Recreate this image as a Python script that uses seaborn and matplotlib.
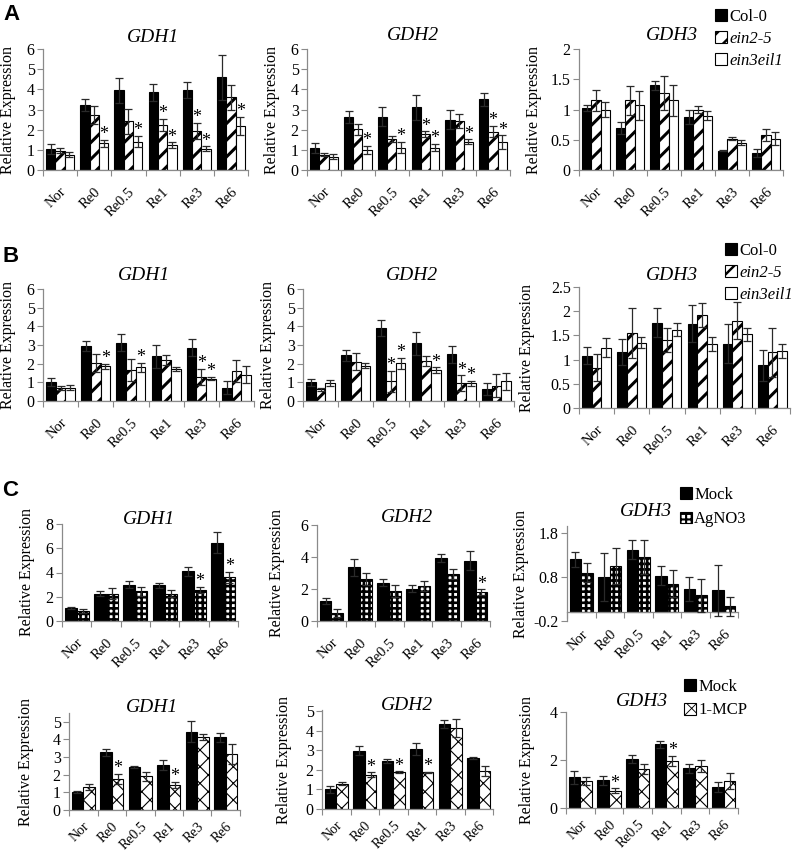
import numpy as np
import pandas as pd
import matplotlib
matplotlib.use("Agg")
import matplotlib.pyplot as plt
import seaborn as sns
from matplotlib.patches import Patch
from matplotlib.ticker import FixedLocator, FormatStrFormatter

plt.rcParams["font.family"] = ["Liberation Serif", "DejaVu Serif"]

TIMES = ["Nor", "Re0", "Re0.5", "Re1", "Re3", "Re6"]
GENOTYPES = ["Col-0", "ein2-5", "ein3eil1"]
AG_GROUPS = ["Mock", "AgNO3"]
MCP_GROUPS = ["Mock", "1-MCP"]

# ---------------- Panel A ----------------
A_GDH1_MEAN = [[1.05, 3.22, 3.95, 3.85, 3.95, 4.60],
               [0.95, 2.72, 2.42, 2.25, 1.95, 3.60],
               [0.75, 1.32, 1.40, 1.22, 1.05, 2.20]]
A_GDH1_ERR = [[0.25, 0.28, 0.62, 0.42, 0.40, 1.12],
              [0.12, 0.45, 0.62, 0.30, 0.40, 0.62],
              [0.13, 0.17, 0.28, 0.15, 0.12, 0.45]]
A_GDH1_SIG = [[0, 0, 0, 0, 0, 0],
              [0, 0, 0, 1, 1, 0],
              [0, 1, 1, 1, 1, 1]]

A_GDH2_MEAN = [[1.08, 2.62, 2.65, 3.10, 2.49, 3.50],
               [0.75, 2.02, 1.53, 1.79, 2.45, 1.90],
               [0.65, 1.00, 1.11, 1.11, 1.41, 1.38]]
A_GDH2_ERR = [[0.25, 0.30, 0.47, 0.60, 0.47, 0.31],
              [0.08, 0.27, 0.16, 0.13, 0.35, 0.28],
              [0.12, 0.20, 0.29, 0.19, 0.11, 0.34]]
A_GDH2_SIG = [[0, 0, 0, 0, 0, 0],
              [0, 0, 0, 1, 0, 1],
              [0, 1, 1, 1, 1, 1]]

A_GDH3_MEAN = [[1.03, 0.70, 1.40, 0.88, 0.32, 0.28],
               [1.15, 1.15, 1.27, 1.00, 0.52, 0.58],
               [1.00, 1.07, 1.15, 0.90, 0.45, 0.52]]
A_GDH3_ERR = [[0.05, 0.10, 0.07, 0.12, 0.01, 0.06],
              [0.17, 0.24, 0.28, 0.06, 0.03, 0.10],
              [0.12, 0.24, 0.25, 0.08, 0.04, 0.10]]
A_GDH3_SIG = [[0] * 6, [0] * 6, [0] * 6]

# ---------------- Panel B ----------------
B_GDH1_MEAN = [[1.00, 2.95, 3.12, 2.40, 2.85, 0.72],
               [0.70, 2.05, 1.65, 2.20, 1.30, 1.62],
               [0.72, 1.85, 1.80, 1.72, 1.20, 1.40]]
B_GDH1_ERR = [[0.22, 0.28, 0.45, 0.62, 0.45, 0.33],
              [0.12, 0.48, 0.60, 0.28, 0.42, 0.60],
              [0.15, 0.15, 0.25, 0.12, 0.10, 0.45]]
B_GDH1_SIG = [[0, 0, 0, 0, 0, 0],
              [0, 0, 0, 0, 1, 0],
              [0, 1, 1, 0, 1, 0]]

B_GDH2_MEAN = [[1.00, 2.45, 3.92, 3.10, 2.50, 0.65],
               [0.62, 2.10, 1.05, 2.15, 0.95, 0.82],
               [0.95, 1.90, 2.02, 1.65, 0.95, 1.05]]
B_GDH2_ERR = [[0.20, 0.30, 0.42, 0.62, 0.45, 0.32],
              [0.10, 0.45, 0.58, 0.28, 0.42, 0.60],
              [0.15, 0.15, 0.28, 0.15, 0.12, 0.45]]
B_GDH2_SIG = [[0, 0, 0, 0, 0, 0],
              [0, 0, 1, 0, 1, 0],
              [0, 0, 1, 1, 1, 0]]

B_GDH3_MEAN = [[1.08, 1.15, 1.76, 1.74, 1.33, 0.88],
               [0.83, 1.55, 1.40, 1.92, 1.80, 1.15],
               [1.25, 1.35, 1.62, 1.32, 1.52, 1.18]]
B_GDH3_ERR = [[0.18, 0.27, 0.30, 0.38, 0.40, 0.32],
              [0.28, 0.52, 0.25, 0.24, 0.38, 0.50],
              [0.20, 0.12, 0.14, 0.15, 0.13, 0.15]]
B_GDH3_SIG = [[0] * 6, [0] * 6, [0] * 6]

# ---------------- Panel C (AgNO3) ----------------
C_GDH1_MEAN = [[1.05, 2.25, 3.00, 2.95, 4.10, 6.45],
               [0.82, 2.25, 2.45, 2.25, 2.55, 3.60]]
C_GDH1_ERR = [[0.08, 0.22, 0.30, 0.22, 0.35, 0.85],
              [0.15, 0.45, 0.35, 0.30, 0.25, 0.45]]
C_GDH1_SIG = [[0, 0, 0, 0, 0, 0],
              [0, 0, 0, 0, 1, 1]]

C_GDH2_MEAN = [[1.25, 3.35, 2.38, 2.02, 3.95, 3.78],
               [0.50, 2.65, 1.85, 2.20, 2.95, 1.80]]
C_GDH2_ERR = [[0.18, 0.55, 0.22, 0.20, 0.25, 0.58],
              [0.22, 0.38, 0.38, 0.32, 0.32, 0.18]]
C_GDH2_SIG = [[0, 0, 0, 0, 0, 0],
              [0, 0, 0, 0, 0, 1]]

C_GDH3_MEAN = [[1.20, 0.80, 1.42, 0.83, 0.53, 0.50],
               [0.90, 1.05, 1.26, 0.65, 0.38, 0.13]]
C_GDH3_ERR = [[0.17, 0.55, 0.22, 0.22, 0.27, 0.58],
              [0.22, 0.40, 0.38, 0.30, 0.37, 0.22]]
C_GDH3_SIG = [[0] * 6, [0] * 6]

# ---------------- Panel C (1-MCP) ----------------
D_GDH1_MEAN = [[1.00, 3.27, 2.45, 2.55, 4.45, 4.12],
               [1.30, 1.75, 1.90, 1.42, 4.15, 3.17]]
D_GDH1_ERR = [[0.05, 0.20, 0.05, 0.30, 0.60, 0.25],
              [0.15, 0.30, 0.25, 0.18, 0.18, 0.58]]
D_GDH1_SIG = [[0, 0, 0, 0, 0, 0],
              [0, 1, 0, 1, 0, 0]]

D_GDH2_MEAN = [[1.00, 2.98, 2.45, 3.07, 4.33, 2.60],
               [1.30, 1.75, 1.87, 1.87, 4.12, 1.93]]
D_GDH2_ERR = [[0.18, 0.22, 0.08, 0.30, 0.20, 0.07],
              [0.06, 0.12, 0.05, 0.03, 0.45, 0.25]]
D_GDH2_SIG = [[0, 0, 0, 0, 0, 0],
              [0, 1, 1, 1, 0, 0]]

D_GDH3_MEAN = [[1.28, 1.15, 2.05, 2.65, 1.65, 0.88],
               [1.13, 0.72, 1.62, 1.95, 1.75, 1.12]]
D_GDH3_ERR = [[0.28, 0.18, 0.17, 0.13, 0.18, 0.20],
              [0.17, 0.10, 0.20, 0.22, 0.27, 0.32]]
D_GDH3_SIG = [[0, 0, 0, 0, 0, 0],
              [0, 1, 0, 1, 0, 0]]

# ---------------- drawing ----------------
W, H = 797, 857
fig = plt.figure(figsize=(W / 100, H / 100), dpi=100)

GRAY = "#8a8a8a"
HATCH_GENO = [None, "//", None]
HATCH_AG = [None, "+++"]
HATCH_MCP = [None, "xx"]
HLW_GENO = [1.0, 2.2, 1.0]
HLW_AG = [1.0, 1.9]
HLW_MCP = [1.0, 0.8]
FACE = {"Col-0": "black", "ein2-5": "white", "ein3eil1": "white",
        "Mock": "black", "AgNO3": "white", "1-MCP": "white"}


def set_hlw(p, lw):
    if hasattr(p, "set_hatch_linewidth"):
        p.set_hatch_linewidth(lw)


def panel(box, means, errs, sigs, groups, hatches, hlws, title, title_xy,
          ylim, yticks, ylabel_right, fmt="%g", zero_spine=False,
          xpad=11, xsize=10.5):
    l, r, t, b = box
    ax = fig.add_axes([l / W, 1 - b / H, (r - l) / W, (b - t) / H])
    if zero_spine:
        ax.spines["bottom"].set_position(("data", 0))
    rows = []
    for gi, g in enumerate(groups):
        for ti, tm in enumerate(TIMES):
            rows.append({"time": tm, "group": g, "value": means[gi][ti]})
    df = pd.DataFrame(rows)
    sns.barplot(data=df, x="time", y="value", hue="group", order=TIMES,
                hue_order=groups, palette={g: FACE[g] for g in groups},
                edgecolor="black", linewidth=0.8, width=0.82,
                errorbar=None, legend=False, ax=ax, saturation=1)
    bar_conts = list(ax.containers)[:len(groups)]
    for gi, cont in enumerate(bar_conts):
        xs, hs = [], []
        for ti, bar in enumerate(cont):
            if hatches[gi]:
                bar.set_hatch(hatches[gi])
                set_hlw(bar, hlws[gi])
            xs.append(bar.get_x() + bar.get_width() / 2)
            hs.append(bar.get_height())
        ax.errorbar(xs, hs, yerr=errs[gi], fmt="none", ecolor="#2a2a2a",
                    elinewidth=0.9, capsize=2.6, capthick=0.9, zorder=3)
        for ti in range(len(xs)):
            if sigs[gi][ti]:
                ax.annotate("*", (xs[ti], hs[ti] + errs[gi][ti]),
                            xytext=(0, 0.5), textcoords="offset points",
                            ha="center", va="baseline", fontsize=13,
                            zorder=4)
    ax.set_xlim(-0.5, 5.5)
    ax.set_ylim(*ylim)
    ax.yaxis.set_major_locator(FixedLocator(yticks))
    ax.yaxis.set_major_formatter(FormatStrFormatter(fmt))
    ax.set_xticks(range(6))
    ax.set_xticklabels(TIMES, rotation=45, ha="right",
                       rotation_mode="anchor", fontsize=xsize)
    ax.xaxis.set_minor_locator(FixedLocator(np.arange(-0.5, 6, 1.0)))
    ax.tick_params(axis="x", which="major", length=0, pad=xpad)
    ax.tick_params(axis="x", which="minor", length=4, color=GRAY,
                   direction="out", width=0.8)
    ax.tick_params(axis="y", length=4, color=GRAY, width=0.8,
                   labelsize=11.5, pad=2)
    for s in ["top", "right"]:
        ax.spines[s].set_visible(False)
    for s in ["left", "bottom"]:
        ax.spines[s].set_color(GRAY)
        ax.spines[s].set_linewidth(0.9)
    ax.set_xlabel("")
    ax.set_ylabel("Relative Expression", fontsize=11.5)
    ax.yaxis.set_label_coords((ylabel_right - l) / (r - l), 0.5)
    tx, ty = title_xy
    fig.text(tx / W, 1 - ty / H, title, fontsize=14, style="italic",
             ha="center", va="center")
    return ax


def legend(ax, groups, hatches, hlws, xy, italic, spacing=0.35):
    handles = []
    for g, h, lw in zip(groups, hatches, hlws):
        p = Patch(facecolor=FACE[g], edgecolor="black", hatch=h,
                  linewidth=0.8)
        handles.append(p)
    x, y = xy
    leg = ax.legend(handles, groups, loc="upper left",
                    bbox_to_anchor=(x / W, 1 - y / H),
                    bbox_transform=fig.transFigure, frameon=False,
                    fontsize=12, handlelength=0.7, handleheight=0.7,
                    handletextpad=0.15, labelspacing=spacing,
                    borderpad=0, borderaxespad=0)
    for p, lw in zip(leg.get_patches(), hlws):
        set_hlw(p, lw * 0.8)
    for txt, it in zip(leg.get_texts(), italic):
        if it:
            txt.set_style("italic")


# Row A
panel((43, 248, 49, 170), A_GDH1_MEAN, A_GDH1_ERR, A_GDH1_SIG, GENOTYPES,
      HATCH_GENO, HLW_GENO, "GDH1", (153, 37), (0, 6), range(0, 7), 16)
panel((307, 510, 49, 170), A_GDH2_MEAN, A_GDH2_ERR, A_GDH2_SIG, GENOTYPES,
      HATCH_GENO, HLW_GENO, "GDH2", (413, 35), (0, 6), range(0, 7), 280)
axA3 = panel((579, 783, 49, 170), A_GDH3_MEAN, A_GDH3_ERR, A_GDH3_SIG,
             GENOTYPES, HATCH_GENO, HLW_GENO, "GDH3", (672, 35), (0, 2),
             [0, 0.5, 1, 1.5, 2], 542)
legend(axA3, GENOTYPES, HATCH_GENO, HLW_GENO, (715, 9), [0, 1, 1])

# Row B
panel((43, 254, 289, 401), B_GDH1_MEAN, B_GDH1_ERR, B_GDH1_SIG, GENOTYPES,
      HATCH_GENO, HLW_GENO, "GDH1", (144, 276), (0, 6), range(0, 7), 16)
panel((303, 514, 289, 401), B_GDH2_MEAN, B_GDH2_ERR, B_GDH2_SIG, GENOTYPES,
      HATCH_GENO, HLW_GENO, "GDH2", (412, 275), (0, 6), range(0, 7), 276)
axB3 = panel((579, 790, 287, 408), B_GDH3_MEAN, B_GDH3_ERR, B_GDH3_SIG,
             GENOTYPES, HATCH_GENO, HLW_GENO, "GDH3", (672, 275), (0, 2.5),
             [0, 0.5, 1, 1.5, 2, 2.5], 535)
legend(axB3, GENOTYPES, HATCH_GENO, HLW_GENO, (725, 243), [0, 1, 1])

# Row C (AgNO3)
panel((62, 238, 524, 621), C_GDH1_MEAN, C_GDH1_ERR, C_GDH1_SIG, AG_GROUPS,
      HATCH_AG, HLW_AG, "GDH1", (149, 520), (0, 8), [0, 2, 4, 6, 8], 35)
panel((317, 490, 525, 621), C_GDH2_MEAN, C_GDH2_ERR, C_GDH2_SIG, AG_GROUPS,
      HATCH_AG, HLW_AG, "GDH2", (407, 518), (0, 6), [0, 2, 4, 6], 285)
axC3 = panel((567, 738, 526, 621), C_GDH3_MEAN, C_GDH3_ERR, C_GDH3_SIG,
             AG_GROUPS, HATCH_AG, HLW_AG, "GDH3", (646, 512), (-0.2, 1.96),
             [-0.2, 0.8, 1.8], 529, zero_spine=True)
legend(axC3, AG_GROUPS, HATCH_AG, HLW_AG, (680, 487), [0, 0], 0.5)

# Row C (1-MCP)
panel((69, 240, 713, 810), D_GDH1_MEAN, D_GDH1_ERR, D_GDH1_SIG, MCP_GROUPS,
      HATCH_MCP, HLW_MCP, "GDH1", (152, 707), (0, 5.5), range(0, 6), 34,
      xpad=7, xsize=10)
panel((322, 493, 710, 809), D_GDH2_MEAN, D_GDH2_ERR, D_GDH2_SIG, MCP_GROUPS,
      HATCH_MCP, HLW_MCP, "GDH2", (407, 705), (0, 5.05), range(0, 6), 292,
      xpad=7, xsize=10)
axD3 = panel((566, 738, 712, 808), D_GDH3_MEAN, D_GDH3_ERR, D_GDH3_SIG,
             MCP_GROUPS, HATCH_MCP, HLW_MCP, "GDH3", (642, 702), (0, 4),
             [0, 2, 4], 535, xpad=7, xsize=10)
legend(axD3, MCP_GROUPS, HATCH_MCP, HLW_MCP, (684, 679), [0, 0], 0.45)

# Panel letters
for letter, (x, y) in {"A": (3, 15), "B": (3, 257), "C": (2, 491)}.items():
    fig.text(x / W, 1 - y / H, letter, fontsize=16, fontweight="bold",
             family=["Liberation Sans", "DejaVu Sans"], ha="left",
             va="center")

fig.savefig("out.png", dpi=100)
